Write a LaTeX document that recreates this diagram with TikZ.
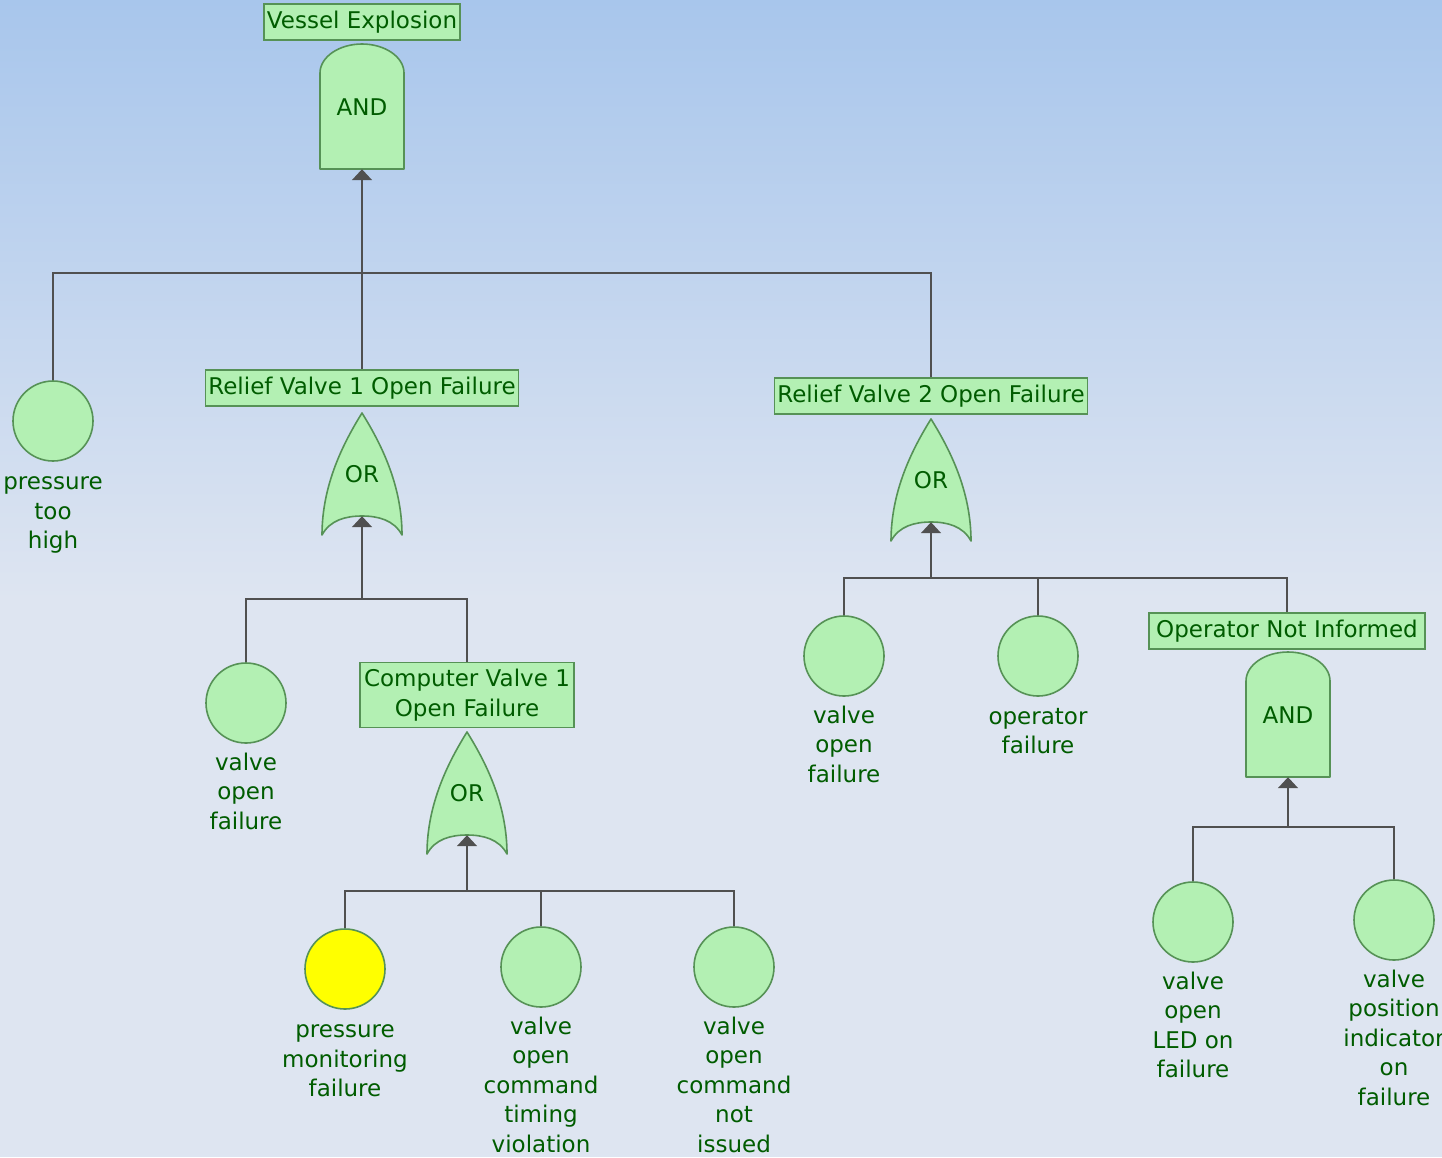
\documentclass[tikz,border=0pt]{standalone}
\usepackage{fontspec}
\setmainfont{DejaVu Sans}
\usetikzlibrary{arrows.meta, positioning, backgrounds}
\definecolor{bgtop}{RGB}{168,198,236}
\definecolor{bgbottom}{RGB}{222,229,241}
\definecolor{gatefill}{RGB}{179,240,179}
\definecolor{gateborder}{RGB}{86,146,86}
\definecolor{labeltext}{RGB}{0,92,0}
\definecolor{linkgray}{RGB}{80,80,80}
\definecolor{hilite}{RGB}{255,255,0}
\pgfdeclarelayer{canvas}
\pgfsetlayers{canvas,background,main}
\newcommand{\gatefont}{\fontsize{23}{29.5}\selectfont}
% gate outlines, drawn round a named gate node
\newcommand{\andshape}[1]{%
  \draw[gateline, shift={(#1.center)}] (-42,62) -- (-42,-34)
    .. controls (-42,-50) and (-23,-63) .. (0,-63)
    .. controls (23,-63) and (42,-50) .. (42,-34) -- (42,62) -- cycle;}
\newcommand{\orshape}[1]{%
  \draw[gateline, shift={(#1.center)}] (-40,61)
    .. controls (-40,10) and (-18,-32) .. (0,-61)
    .. controls (18,-32) and (40,10) .. (40,61)
    .. controls (32,46) and (16,42) .. (0,42)
    .. controls (-16,42) and (-32,46) .. (-40,61) -- cycle;}

\begin{document}
\begin{tikzpicture}[x=1pt, y=-1pt,
    event/.style={circle, draw=gateborder, fill=gatefill, line width=1.6pt, minimum size=80pt, inner sep=0pt},
    evtext/.style={align=center, text=labeltext, font=\gatefont, inner sep=2pt, anchor=north, yshift=-7pt},
    tag/.style={draw=gateborder, fill=gatefill, line width=1.6pt, text=labeltext, font=\gatefont, minimum height=36pt, inner xsep=3pt, inner ysep=2pt},
    andgate/.style={minimum width=84pt, minimum height=124pt, inner sep=0pt, text=labeltext, font=\gatefont},
    orgate/.style={andgate, minimum height=84pt},
    gateline/.style={draw=gateborder, fill=gatefill, line width=1.6pt, line join=round},
    link/.style={draw=linkgray, line width=1.8pt},
    feed/.style={link, -{Triangle[width=20pt,length=11pt]}}
]
\useasboundingbox (0,0) rectangle (1442,1157);
\begin{pgfonlayer}{canvas}
\fill[top color=bgtop, bottom color=bgbottom] (0,0) rectangle (1442,600);
\fill[bgbottom] (0,600) rectangle (1442,1157);
\end{pgfonlayer}

% Top event
\node[tag, minimum width=192pt] (ve) at (362,22) {Vessel Explosion};
\node[andgate] (ve-and) at (362,107) {AND};

% First level
\node[event] (pth) at (53,421) {};
\node[evtext, yshift=-6pt] (pth-t) at (pth.south) {pressure\\too\\high};
\node[tag, minimum width=313pt] (rv1) at (362,388) {Relief Valve 1 Open Failure};
\node[orgate] (rv1-or) at (362,474) {OR};
\node[tag, minimum width=313pt] (rv2) at (931,396) {Relief Valve 2 Open Failure};
\node[orgate] (rv2-or) at (931,480) {OR};

% Relief valve 1 branch
\node[event] (vof1) at (246,703) {};
\node[evtext] (vof1-t) at (vof1.south) {valve\\open\\failure};
\node[tag, minimum width=214pt, minimum height=65pt, align=center] (cv1) at (467,695) {Computer Valve 1\\Open Failure};
\node[orgate] (cv1-or) at (467,793) {OR};
\node[event, fill=hilite] (pmf) at (345,969) {};
\node[evtext, yshift=-6pt] (pmf-t) at (pmf.south) {pressure\\monitoring\\failure};
\node[event] (vct) at (541,967) {};
\node[evtext] (vct-t) at (vct.south) {valve\\open\\command\\timing\\violation};
\node[event] (vcn) at (734,967) {};
\node[evtext] (vcn-t) at (vcn.south) {valve\\open\\command\\not\\issued};

% Relief valve 2 branch
\node[event] (vof2) at (844,656) {};
\node[evtext] (vof2-t) at (vof2.south) {valve\\open\\failure};
\node[event] (opf) at (1038,656) {};
\node[evtext, yshift=-2pt] (opf-t) at (opf.south) {operator\\failure};
\node[tag, minimum width=276pt] (oni) at (1287,631) {Operator Not Informed};
\node[andgate] (oni-and) at (1288,715) {AND};
\node[event] (vled) at (1193,922) {};
\node[evtext] (vled-t) at (vled.south) {valve\\open\\LED on\\failure};
\node[event] (vpi) at (1394,920) {};
\node[evtext] (vpi-t) at (vpi.south) {valve\\position\\indicator\\on\\failure};

% Gate outlines
\begin{pgfonlayer}{background}
\andshape{ve-and}
\orshape{rv1-or}
\orshape{rv2-or}
\orshape{cv1-or}
\andshape{oni-and}
\end{pgfonlayer}

% Junctions
\coordinate (top-j) at (362,273);
\coordinate (rv1-j) at (362,599);
\coordinate (cv1-j) at (467,891);
\coordinate (rv2-j) at (931,578);
\coordinate (oni-j) at (1288,827);

% Flow
\draw[link] (pth.north) |- (top-j);
\draw[link] (rv2.north) |- (top-j);
\draw[link] (rv1.north) -- (top-j);
\draw[feed] (top-j) -- (ve-and.south);

\draw[link] (vof1.north) |- (rv1-j);
\draw[link] (cv1.north) |- (rv1-j);
\draw[feed] (rv1-j) -- (rv1-or.south);

\draw[link] (pmf.north) |- (cv1-j);
\draw[link] (vct.north) |- (cv1-j);
\draw[link] (vcn.north) |- (cv1-j);
\draw[feed] (cv1-j) -- (cv1-or.south);

\draw[link] (vof2.north) |- (rv2-j);
\draw[link] (opf.north) |- (rv2-j);
\draw[link] (oni.north) |- (rv2-j);
\draw[feed] (rv2-j) -- (rv2-or.south);

\draw[link] (vled.north) |- (oni-j);
\draw[link] (vpi.north) |- (oni-j);
\draw[feed] (oni-j) -- (oni-and.south);

\end{tikzpicture}
\end{document}
